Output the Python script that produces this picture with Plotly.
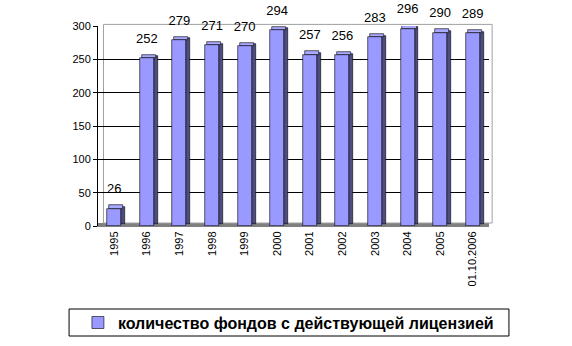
import plotly.graph_objects as go

categories = ["1995", "1996", "1997", "1998", "1999", "2000", "2001",
              "2002", "2003", "2004", "2005", "01.10.2006"]
values = [26, 252, 279, 271, 270, 294, 257, 256, 283, 296, 290, 289]
series_name = "количество фондов с действующей лицензией"
y_ticks = [0, 50, 100, 150, 200, 250, 300]

FRONT = "#9999FF"
SIDE = "#4D4D80"
TOP = "#A8A8FF"
DEPTH = 5  # data units for the 3D depth look

x_idx = list(range(len(categories)))

fig = go.Figure()

# side faces (pseudo 3D)
fig.add_trace(go.Bar(
    x=x_idx, y=values, base=[DEPTH * 0.5] * len(values),
    width=0.12, offset=0.215,
    marker=dict(color=SIDE, line=dict(color="#000000", width=0.6)),
    showlegend=False, hoverinfo="skip",
))
# top faces
fig.add_trace(go.Bar(
    x=x_idx, y=[DEPTH] * len(values), base=values,
    width=0.43, offset=-0.215 + 0.06,
    marker=dict(color=TOP, line=dict(color="#000000", width=0.6)),
    showlegend=False, hoverinfo="skip",
))
# front faces
fig.add_trace(go.Bar(
    x=x_idx, y=values, width=0.43, offset=-0.215,
    name=series_name,
    marker=dict(color=FRONT, line=dict(color="#000000", width=0.6)),
    showlegend=True,
))
# value labels
fig.add_trace(go.Scatter(
    x=x_idx, y=values, mode="markers+text", text=[str(v) for v in values],
    textposition="top center",
    marker=dict(size=18, opacity=0),
    textfont=dict(family="Liberation Sans, Arial, sans-serif", size=13, color="#000000"),
    showlegend=False, hoverinfo="skip", cliponaxis=False,
))

# floor and back wall
fig.add_shape(type="rect", xref="paper", yref="paper", x0=0.0, x1=1.0,
              y0=-0.005, y1=0.015, fillcolor="#808080", line=dict(width=0), layer="below")
fig.add_shape(type="rect", xref="paper", yref="paper", x0=0.014, x1=1.008,
              y0=0.015, y1=1.008, fillcolor="rgba(0,0,0,0)",
              line=dict(color="#A0A0A0", width=1), layer="below")
# legend box
fig.add_shape(type="rect", xref="paper", yref="paper", x0=-0.074, x1=1.051,
              y0=-0.55, y1=-0.415, fillcolor="rgba(0,0,0,0)",
              line=dict(color="#000000", width=1))

fig.update_layout(
    width=572, height=346,
    margin=dict(l=98, r=83, t=26, b=120, autoexpand=False),
    paper_bgcolor="#FFFFFF", plot_bgcolor="#FFFFFF",
    barmode="overlay",
    font=dict(family="Liberation Sans, Arial, sans-serif", size=11, color="#000000"),
    xaxis=dict(
        range=[-0.5, 11.5], tickmode="array", tickvals=x_idx, ticktext=categories,
        tickangle=-90, showgrid=False, zeroline=False,
        showline=True, linecolor="#808080", linewidth=1,
        ticks="", tickfont=dict(size=11), automargin=False,
    ),
    yaxis=dict(
        range=[0, 300], tickmode="array", tickvals=y_ticks,
        showgrid=True, gridcolor="#000000", gridwidth=1,
        zeroline=False, showline=True, linecolor="#000000", linewidth=1,
        ticks="outside", ticklen=4, tickcolor="#000000",
        tickfont=dict(size=11), automargin=False,
    ),
    legend=dict(
        orientation="h", x=0.487, xanchor="center", y=-0.483, yanchor="middle",
        font=dict(family="Liberation Sans, Arial, sans-serif", size=16, color="#000000",
                  weight="bold"),
        bgcolor="rgba(0,0,0,0)", borderwidth=0, itemwidth=30,
    ),
    bargap=0,
)

fig.write_html("out.html")
